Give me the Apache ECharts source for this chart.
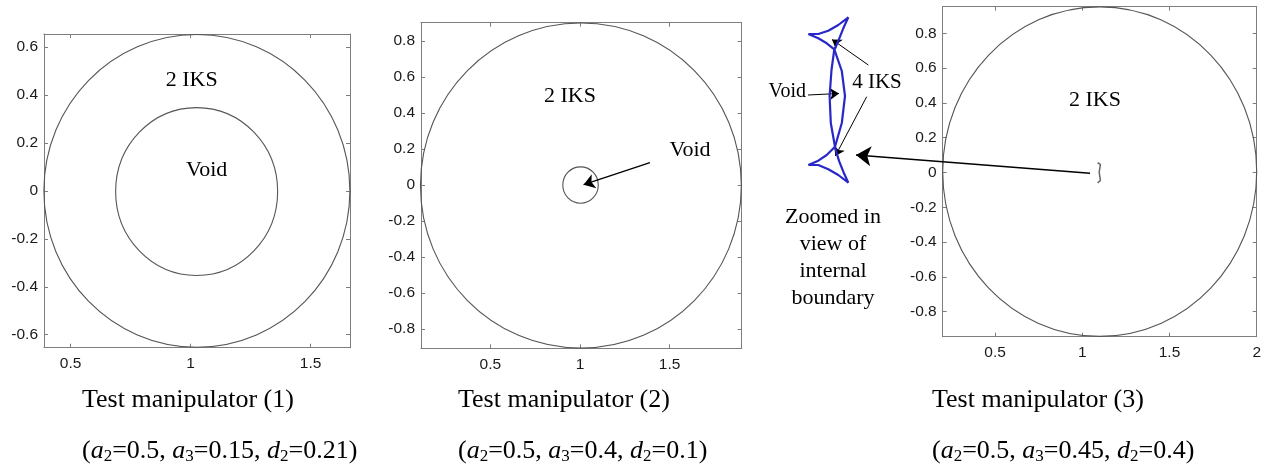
<!DOCTYPE html>
<html>
<head>
<meta charset="utf-8">
<script src="https://cdn.jsdelivr.net/npm/echarts@6/dist/echarts.min.js"></script>
<style>
  html, body { margin: 0; padding: 0; background: #fff; }
  #chart { width: 1266px; height: 465px; }
</style>
</head>
<body>
<div id="chart"></div>
<script>
// circles as [centerX, centerY, radiusX, radiusY] in axis units (picture is slightly squashed)
const panel1Circles = [[1.026, 0, 0.6375, 0.652], [1.025, -0.003, 0.3375, 0.35]];
const panel2Circles = [[1.005, -0.003, 0.895, 0.903], [1.003, 0, 0.099, 0.101]];
const panel3Circles = [[1.1, 0.005, 0.9, 0.947]];

// tiny internal boundary in panel 3
const panel3Mark = [[1.088, 0.056], [1.104, 0.046], [1.097, 0.0], [1.104, -0.046], [1.088, -0.06]];

// axis ranges and tick labels
const xRanges = [[0.389, 1.664], [0.113, 1.902], [0.2, 2.0]];
const yRanges = [[-0.654, 0.654], [-0.907, 0.902], [-0.944, 0.953]];
const xTicks = [[0.5, 1, 1.5], [0.5, 1, 1.5], [0.5, 1, 1.5, 2]];
const yTicks = [
  [-0.6, -0.4, -0.2, 0, 0.2, 0.4, 0.6],
  [-0.8, -0.6, -0.4, -0.2, 0, 0.2, 0.4, 0.6, 0.8],
  [-0.8, -0.6, -0.4, -0.2, 0, 0.2, 0.4, 0.6, 0.8]
];

// zoomed-in view of the internal boundary (page pixels)
const topCusp = [
  [808.3, 34], [818.3, 34], [828.3, 30.7], [838.3, 25], [848.3, 17.3],
  [843.3, 28.3], [839.3, 38.3], [836.3, 45.7], [834.3, 49.3],
  [826.7, 43.3], [818.3, 38.3], [808.3, 34]
];
const bottomCusp = [
  [808.3, 165], [818.3, 165], [828.3, 169.3], [838.3, 175], [848.3, 182.7],
  [843.3, 171.7], [839.3, 161.7], [836.7, 153.3], [835, 146.7],
  [826.7, 155], [818.3, 160.7], [808.3, 165]
];
const lensLeft = [[834.3, 49.3], [831.5, 70], [829.6, 96], [830.8, 123], [835, 146.7]];
const lensRight = [[834.3, 49.3], [841.8, 71], [845, 96], [841.8, 123], [835, 146.7]];

const captionTitles = ['Test manipulator (1)', 'Test manipulator (2)', 'Test manipulator (3)'];
const captionParams = [['0.5', '0.15', '0.21'], ['0.5', '0.4', '0.1'], ['0.5', '0.45', '0.4']];

const grids = [
  { left: 44, top: 34, width: 306, height: 313.7 },
  { left: 421, top: 22.7, width: 320.7, height: 325.6 },
  { left: 942.7, top: 6.7, width: 314, height: 330 },
  { left: 0, top: 0, width: 1266, height: 465 }
];

const SERIF = "'Liberation Serif', 'Times New Roman', serif";
const SANS = "'Liberation Sans', Arial, sans-serif";
const BOX = '#7d7d7d';
const CURVE = '#555';

const xAxes = [];
const yAxes = [];
for (let i = 0; i < 3; i++) {
  ['bottom', 'top'].forEach((pos) => {
    xAxes.push({
      gridIndex: i, type: 'value', position: pos,
      min: xRanges[i][0], max: xRanges[i][1],
      axisLine: { show: true, onZero: false, lineStyle: { color: BOX, width: 1 } },
      axisTick: { show: true, inside: true, length: 4, customValues: xTicks[i], lineStyle: { color: BOX } },
      axisLabel: {
        show: pos === 'bottom', customValues: xTicks[i], margin: 8,
        color: '#1a1a1a', fontSize: 15.5, fontFamily: SANS,
        formatter: (v) => String(v)
      },
      splitLine: { show: false }
    });
  });
  ['left', 'right'].forEach((pos) => {
    yAxes.push({
      gridIndex: i, type: 'value', position: pos,
      min: yRanges[i][0], max: yRanges[i][1],
      axisLine: { show: true, onZero: false, lineStyle: { color: BOX, width: 1 } },
      axisTick: { show: true, inside: true, length: 4, customValues: yTicks[i], lineStyle: { color: BOX } },
      axisLabel: {
        show: pos === 'left', customValues: yTicks[i], margin: 6,
        color: '#1a1a1a', fontSize: 15.5, fontFamily: SANS,
        formatter: (v) => String(v)
      },
      splitLine: { show: false }
    });
  });
}
// overlay in page pixels for the zoomed view and the long arrow
xAxes.push({ gridIndex: 3, type: 'value', min: 0, max: 1266, show: false });
yAxes.push({ gridIndex: 3, type: 'value', min: 0, max: 465, inverse: true, show: false });

const ellipseSeries = (circles, i) => ({
  type: 'custom',
  xAxisIndex: 2 * i, yAxisIndex: 2 * i,
  data: circles,
  encode: { x: 0, y: 1 },
  renderItem: (params, api) => {
    const c = api.coord([api.value(0), api.value(1)]);
    const s = api.size([api.value(2), api.value(3)]);
    return {
      type: 'ellipse',
      shape: { cx: c[0], cy: c[1], rx: s[0], ry: s[1] },
      style: { fill: 'none', stroke: CURVE, lineWidth: 1.1 }
    };
  },
  silent: true
});

const blueLine = (pts) => ({
  type: 'line', xAxisIndex: 6, yAxisIndex: 6,
  data: pts, showSymbol: false, smooth: false,
  lineStyle: { color: '#2828c8', width: 2.2 }, silent: true
});

const series = [
  ellipseSeries(panel1Circles, 0),
  ellipseSeries(panel2Circles, 1),
  ellipseSeries(panel3Circles, 2),
  {
    type: 'line', xAxisIndex: 4, yAxisIndex: 4,
    data: panel3Mark, showSymbol: false,
    lineStyle: { color: '#666', width: 1.5 }, silent: true
  },
  // panel 2 "Void" arrow
  {
    type: 'lines', coordinateSystem: 'cartesian2d', xAxisIndex: 2, yAxisIndex: 2,
    symbol: ['none', 'arrow'], symbolSize: 11,
    lineStyle: { color: '#000', width: 1.3, opacity: 1 },
    data: [{ coords: [[1.39, 0.124], [1.02, 0.002]] }]
  },
  blueLine(topCusp),
  blueLine(bottomCusp),
  blueLine(lensLeft),
  blueLine(lensRight),
  // small arrows in the zoomed view
  {
    type: 'lines', coordinateSystem: 'cartesian2d', xAxisIndex: 6, yAxisIndex: 6,
    symbol: ['none', 'arrow'], symbolSize: 9,
    lineStyle: { color: '#000', width: 1, opacity: 1 },
    data: [
      { coords: [[808, 95], [839, 93.5]] },
      { coords: [[868.3, 65], [832, 39.5]] },
      { coords: [[866.7, 96.7], [835.3, 156]] }
    ]
  },
  // long arrow from panel 3 to the zoomed view
  {
    type: 'lines', coordinateSystem: 'cartesian2d', xAxisIndex: 6, yAxisIndex: 6,
    symbol: ['none', 'arrow'], symbolSize: 15,
    lineStyle: { color: '#000', width: 1.5, opacity: 1 },
    data: [{ coords: [[1090, 173.3], [856, 155]] }]
  }
];

const label = (text, x, y, size, align) => ({
  type: 'text', x: x, y: y, silent: true,
  style: {
    text: text, fill: '#000', font: size + 'px ' + SERIF,
    align: align || 'center', textAlign: align || 'center',
    verticalAlign: 'middle', textVerticalAlign: 'middle', lineHeight: 27
  }
});

const captionX = [82, 458, 932];
const graphics = [
  label('2 IKS', 191.7, 80, 22),
  label('Void', 206.7, 170, 22),
  label('2 IKS', 570, 96.7, 22),
  label('Void', 690, 150, 22),
  label('2 IKS', 1095, 100, 22),
  label('Void', 806, 92, 20, 'right'),
  label('4 IKS', 877, 82, 21),
  label('Zoomed in\nview of\ninternal\nboundary', 833, 258, 22)
];
captionTitles.forEach((t, i) => {
  graphics.push(label(t, captionX[i], 400, 26, 'left'));
  const p = captionParams[i];
  graphics.push({
    type: 'text', x: captionX[i], y: 451, silent: true,
    style: {
      text: '(' + '{i|a}{s|2}=' + p[0] + ', {i|a}{s|3}=' + p[1] + ', {i|d}{s|2}=' + p[2] + ')',
      fill: '#000', font: '26px ' + SERIF,
      align: 'left', textAlign: 'left', verticalAlign: 'middle', textVerticalAlign: 'middle',
      rich: {
        i: { fontSize: 26, fontStyle: 'italic', fontFamily: SERIF, fill: '#000' },
        s: { fontSize: 17, fontFamily: SERIF, fill: '#000', padding: [11, 0, 0, 0] }
      }
    }
  });
});

const chart = echarts.init(document.getElementById('chart'));
chart.setOption({
  animation: false,
  backgroundColor: '#fff',
  grid: grids,
  xAxis: xAxes,
  yAxis: yAxes,
  series: series,
  graphic: { elements: graphics }
});
</script>
</body>
</html>
